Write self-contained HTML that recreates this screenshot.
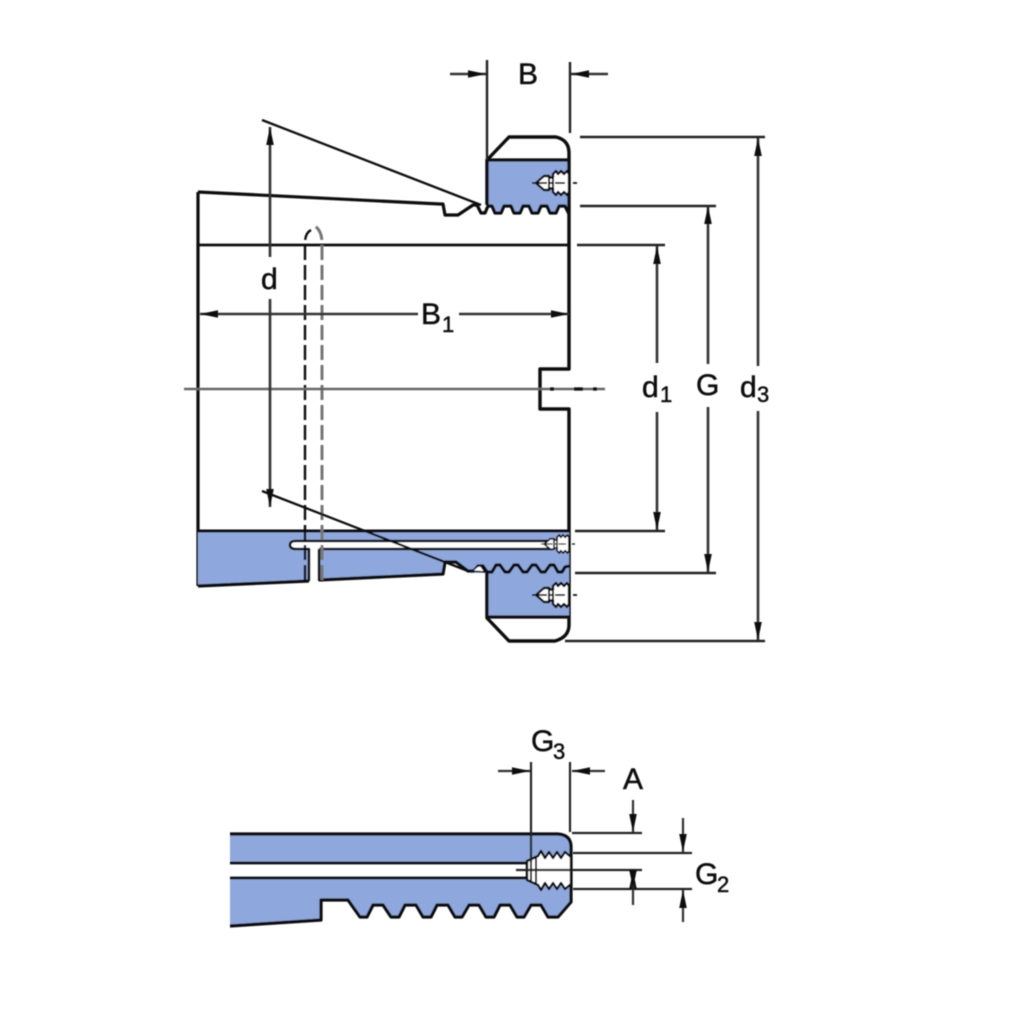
<!DOCTYPE html>
<html><head><meta charset="utf-8">
<style>html,body{margin:0;padding:0;background:#fff}svg{display:block}
text{font-family:"Liberation Sans",sans-serif;font-size:30px;fill:#111;stroke:#111;stroke-width:.5}
.s{font-size:22px}</style></head>
<body>
<svg width="1024" height="1024" viewBox="0 0 1024 1024" xmlns="http://www.w3.org/2000/svg">
<defs>
<filter id="b" x="-5%" y="-5%" width="110%" height="110%"><feGaussianBlur stdDeviation="0.5"/></filter>
<marker id="a" markerUnits="userSpaceOnUse" markerWidth="20" markerHeight="10" refX="18" refY="5" orient="auto-start-reverse" viewBox="0 0 20 10"><path d="M0 1.2 L18 5 L0 8.8 Z" fill="#111"/></marker>
<g id="bolt">
<path d="M-37 0H0" stroke="#111" stroke-width="1.8"/>
<path d="M-33 0L-25 -7H-20V-5.5H-16V-9L-13 -12L-11 -9L-8 -12L-5 -9L-2 -12L0 -9V9L-2 12L-5 9L-8 12L-11 9L-13 12L-16 9V5.5H-20V7H-25Z" fill="#fff" stroke="#111" stroke-width="2.4"/>
<path d="M-20 -6V6M-16 -6V6" stroke="#111" stroke-width="2"/>
<path d="M-32 0H8" stroke="#111" stroke-width="1.8" stroke-dasharray="10 3 2 3"/>
</g>
</defs>
<g filter="url(#b)" fill="none" stroke="#111" stroke-linejoin="round">
<!-- top nut -->
<path d="M487 160H569V214L565 206H559L556 213H550L547 206H541L538 213H532L529 206H523L520 213H514L511 206H504L501 213H495L492 206H487Z" fill="#8ea7dd" stroke="none"/>
<path d="M487 205V160L509 137H556Q569 140 569 153V369H540V409H569V625Q569 637 555 641H509L487 618V573" stroke-width="3.4"/>
<path d="M487 160H569" stroke-width="3.2"/>
<path d="M198 192L440 204H443L445 215H458L473 205H477L481 213H485L488 206H492L495 213H501L504 206H511L514 213H520L523 206H529L532 213H538L541 206H547L550 213H556L559 206H565L569 214" stroke-width="3.2"/>
<path d="M198 192V586" stroke-width="3.2"/>
<path d="M198 245H569" stroke-width="2.8"/>
<!-- lower blue -->
<path d="M198 531H569V617H487V573H470L455 562H445L443 574L319 580V549H309V581L198 586Z" fill="#8ea7dd" stroke="none"/>
<path d="M198 531H569" stroke-width="3"/>
<path d="M319 549H552V541H296Q290 541 290 545Q290 549 296 549H309V581H319Z" fill="#fff" stroke="none"/>
<path d="M319 549H552V541H296Q290 541 290 545Q290 549 296 549H309V581" stroke-width="2.6"/>
<path d="M319 549V581" stroke-width="2.6"/>
<path d="M198 586L309 581M319 580L443 574L445 562H456L468 571H474L478 566H483L487 572H492L496 565H500L505 572H509L514 565H518L523 572H527L532 565H536L541 572H545L550 565H554L558 572H562L565 567L569 566" stroke-width="3.2"/>
<path d="M472 571L478 566H481L485 572Z" fill="#fff" stroke-width="1.6"/>
<path d="M487 573V617M487 617H569" stroke-width="3.2"/>
<!-- dashed duct -->
<path d="M305 580V243Q305 233 311 230" stroke-width="2.4" stroke-dasharray="15 5"/>
<path d="M322 580V243Q322 231 315 226" stroke="#777" stroke-width="3" stroke-dasharray="15 5"/>
<!-- bolts -->
<use href="#bolt" x="569" y="183"/>
<use href="#bolt" x="569" y="595"/>
<g transform="translate(569,544) scale(.75)"><use href="#bolt"/></g>
<!-- center line -->
<path d="M184 389H540" stroke="#666" stroke-width="2.6"/>
<path d="M540 389H605" stroke="#666" stroke-width="2.6"/>
<path d="M550 389H554M574 389H583M593 389H597" stroke="#111" stroke-width="3.2"/>
<!-- diagonals -->
<path d="M262 120L481 205M262 491L468 571" stroke-width="2.3"/>
<!-- extension lines -->
<g stroke="#222" stroke-width="2.4">
<path d="M487 60V160M570 62V133"/>
<path d="M580 137H765M565 641H765M580 206H716M575 573H716M577 245H665M575 531H665"/>
</g>
<!-- dimension arrows -->
<g stroke="#333" stroke-width="2.6">
<path d="M450 74H486" marker-end="url(#a)"/>
<path d="M608 74H571" marker-end="url(#a)"/>
<path d="M270 257V127" marker-end="url(#a)"/>
<path d="M270 299V507" marker-end="url(#a)"/>
<path d="M418 314H200" marker-end="url(#a)"/>
<path d="M459 314H569" marker-end="url(#a)"/>
<path d="M657 363V246" marker-end="url(#a)"/>
<path d="M657 412V530" marker-end="url(#a)"/>
<path d="M708 364V206" marker-end="url(#a)"/>
<path d="M708 407V572" marker-end="url(#a)"/>
<path d="M758 366V138" marker-end="url(#a)"/>
<path d="M758 411V640" marker-end="url(#a)"/>
</g>
<!-- lower detail -->
<path d="M230 834H558Q571 835 571 847V902L558 917H548L541 905H531L524 917H517L510 905H500L494 917H486L479 905H469L462 917H455L448 905H437L431 917H423L416 905H405L399 917H391L383 905H373L367 917H360L348 900H321V920L230 926V878H530V863H230Z" fill="#8ea7dd" stroke="none"/>
<path d="M230 834H558Q571 835 571 847V902L558 917H548L541 905H531L524 917H517L510 905H500L494 917H486L479 905H469L462 917H455L448 905H437L431 917H423L416 905H405L399 917H391L383 905H373L367 917H360L348 900H321V920L230 926" stroke-width="3.2"/>
<path d="M230 863H527M230 878H527" stroke-width="2.8"/>
<path d="M527 861L538 856L541 851L545 858L549 852L553 858L557 852L561 858L565 852L571 857V884L565 889L561 883L557 889L553 883L549 889L545 883L541 890L538 885L527 880Z" fill="#fff" stroke-width="2.4"/>
<path d="M527 862V879M531 859V881M536 857V884" stroke-width="2"/>
<path d="M516 870H642" stroke="#222" stroke-width="2.2"/>
<path d="M531 762V862M570 762V832" stroke="#222" stroke-width="2.2"/>
<path d="M572 833H642M573 853H692M573 889H692" stroke="#222" stroke-width="2.2"/>
<g stroke="#333" stroke-width="2.2">
<path d="M498 771H530" marker-end="url(#a)"/>
<path d="M605 771H572" marker-end="url(#a)"/>
<path d="M633 800V832" marker-end="url(#a)"/>
<path d="M683 818V852" marker-end="url(#a)"/>
<path d="M633 905V871" marker-end="url(#a)"/>
<path d="M633 871V888" marker-end="url(#a)"/>
<path d="M683 922V890" marker-end="url(#a)"/>
</g>
</g>
<g filter="url(#b)">
<text x="518" y="84">B</text>
<text x="261" y="289">d</text>
<text x="421" y="324">B</text><text class="s" x="442" y="332">1</text>
<text x="642" y="397">d</text><text class="s" x="660" y="402">1</text>
<text x="696" y="395">G</text>
<text x="740" y="397">d</text><text class="s" x="757" y="402">3</text>
<text x="531" y="751">G</text><text class="s" x="553" y="759">3</text>
<text x="623" y="789">A</text>
<text x="695" y="884">G</text><text class="s" x="717" y="892">2</text>
</g>
</svg>
</body></html>
